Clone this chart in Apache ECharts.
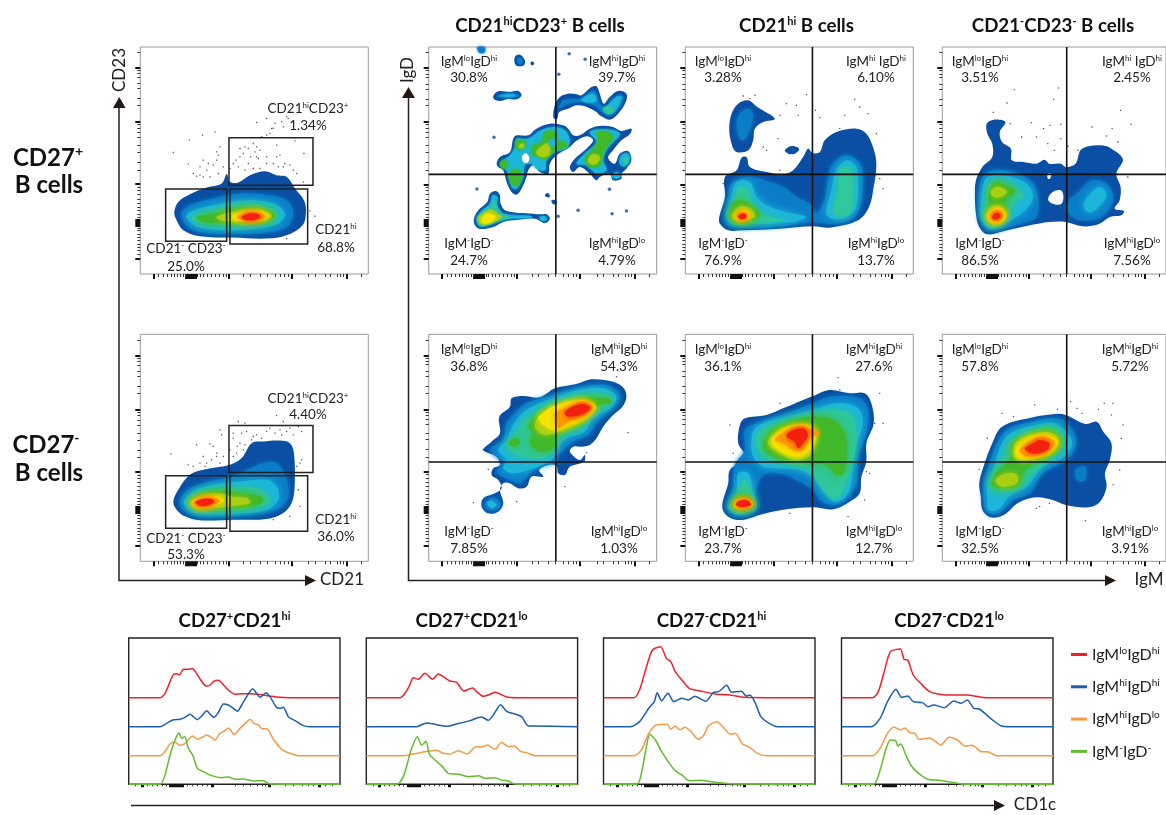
<!DOCTYPE html>
<html><head><meta charset="utf-8">
<style>html,body{margin:0;padding:0;background:#fff;overflow:hidden}#c{width:1166px;height:815px}</style>
<script src="https://cdn.jsdelivr.net/npm/echarts@6/dist/echarts.min.js"></script>
</head><body><div id="c"></div>
<script>
// ---------- density contours: [level, x,y, x,y, ...] in each panel's own axis units (level -1 = empty hole)
const cd27pGate = [
[0,523,635,535,605,570,582,620,562,665,550,680,522,690,545,715,547,750,525,795,513,830,525,860,530,885,565,912,600,918,635,908,675,860,705,800,715,700,712,600,708,550,690,530,660],
[1,545,640,570,615,640,595,720,580,800,585,860,600,880,640,860,680,800,697,700,700,600,695,560,675],
[2,560,645,600,625,680,608,750,600,820,610,855,640,835,670,770,685,680,690,600,682,570,665],
[3,575,648,620,635,700,615,760,612,815,625,835,645,815,665,760,675,680,678,610,672,580,660],
[4,590,650,650,640,710,625,770,620,815,635,825,648,800,665,750,668,680,668,610,665],
[5,650,650,700,635,770,627,810,640,815,650,790,662,730,665,670,662],
[6,695,648,730,635,775,632,805,645,790,658,740,664,705,660],
[7,712,650,740,637,780,638,798,648,775,660,735,662],
[8,725,650,750,640,775,642,782,650,760,660,735,658]];
const cd27nGate = [
[0,520,605,535,570,570,525,620,508,690,495,725,475,755,430,790,425,840,422,870,430,882,460,884,560,875,610,850,640,800,658,700,660,600,662,555,650,530,630],
[1,540,605,565,570,620,548,700,530,790,490,830,490,860,540,865,590,840,625,780,640,680,650,590,650,550,630],
[2,552,605,580,575,640,555,720,545,800,540,830,560,835,600,800,630,700,642,600,642,565,630],
[3,562,605,600,575,680,565,760,565,805,590,800,615,740,630,650,633,590,632],
[4,568,607,600,582,660,572,720,580,780,590,790,605,750,620,680,625,600,628],
[5,570,608,600,588,660,582,690,590,740,595,750,610,700,618,650,625,590,628],
[6,575,608,605,592,655,590,672,603,640,618,595,625],
[7,580,608,610,596,650,597,660,605,630,617,595,622],
[8,587,608,612,598,640,600,640,610,610,619]];
const cd27pDP = [
[1,232,141,255,141,253,157,238,157],
[0,345,170,360,163,375,180,372,195,355,198,345,190],[1,352,175,362,172,368,185,358,192],
[0,392,186,400,184,403,191,395,195],
[0,280,287,295,273,330,275,355,272,365,285,350,297,325,295,300,302,283,297],[1,290,287,310,280,350,280,358,287,340,292,310,292],[2,298,288,315,283,345,284,345,288,315,289],
[0,460,345,465,315,480,290,505,280,530,282,545,285,575,260,590,258,600,280,612,310,630,290,655,272,680,280,678,305,655,340,630,358,600,345,590,335,555,318,530,315,505,325,478,335,472,355,463,355],
[1,478,325,490,300,520,295,545,295,580,270,590,280,600,310,620,320,640,295,665,285,670,300,645,335,625,345,600,330,580,312,540,305,500,312],
[2,545,297,578,280,590,295,585,305,555,305],[2,620,320,650,290,665,290,650,325,630,342,612,330],[3,610,325,630,318,642,330,625,340],
[0,290,490,300,470,330,455,340,415,350,405,385,405,410,385,450,370,490,375,505,385,520,405,540,405,570,385,600,377,640,380,665,392,695,385,690,402,665,420,640,450,625,472,645,490,660,460,685,452,695,480,680,505,665,520,665,535,640,540,630,520,600,530,590,540,570,520,540,500,520,515,510,500,525,475,560,445,580,420,560,408,525,425,510,440,470,465,450,490,445,520,420,515,400,495,385,510,380,530,365,565,350,583,335,575,320,545,310,510,295,500],
[2,300,490,330,465,345,440,350,415,385,415,420,392,460,380,495,390,510,420,500,445,465,455,440,480,435,510,410,505,395,490,375,495,370,530,350,565,335,560,325,520,310,500],
[2,530,490,555,460,590,425,570,395,620,387,660,400,640,425,620,450,610,480,620,510,590,520,560,495],
[2,660,490,665,465,685,460,690,480,675,498],[2,635,528,650,515,665,525,650,535],
[4,395,460,400,435,425,425,435,395,465,395,475,420,495,425,500,440,465,450,440,475,415,470],
[4,345,435,355,420,378,425,370,445,350,445],[4,300,490,312,478,325,495,310,505],[4,325,525,345,505,365,520,355,555,340,555],
[4,555,475,580,445,595,420,590,395,625,395,640,410,625,435,610,460,600,495,570,500],[3,672,480,680,470,685,485,675,490],
[5,410,455,430,435,445,430,450,460,425,470],[5,360,432,372,430,370,442,358,442],[5,565,478,580,462,600,470,590,490,570,490],
[2,447,425,465,415,468,435,452,437],[-1,366,470,377,458,388,470,385,485,372,487],
[0,435,583,445,578,450,590,440,590],[0,455,600,468,600,470,612,458,610],
[0,222,655,235,630,262,605,270,580,288,572,300,585,302,610,320,632,400,640,420,642,440,642,450,655,435,668,405,655,340,660,310,665,280,680,240,686,225,675],
[2,230,655,245,632,270,610,278,585,292,590,292,615,310,640,395,647,395,652,330,655,300,662,265,675,240,678],
[3,232,655,250,635,275,620,283,600,290,625,305,642,330,650,305,657,270,670,242,675],
[5,235,655,250,638,275,628,292,640,305,650,280,665,245,672],[6,245,655,262,640,285,645,285,655,265,668,248,668],
[2,418,652,432,647,442,655,430,662]];
const cd27pHi = [
[0,178,385,185,340,205,310,235,300,262,320,315,355,280,365,255,385,250,420,235,450,200,455,185,430],
[1,200,380,210,340,235,325,250,345,235,400,215,420],[0,345,450,365,437,388,445,375,460,355,460],
[0,148,650,165,590,165,530,200,510,215,472,230,470,240,500,290,515,340,522,370,510,400,470,415,445,428,458,450,455,465,420,500,395,560,385,590,400,610,440,620,490,612,560,598,620,565,660,480,682,430,678,330,685,220,690,175,690,150,670],
[1,165,650,175,590,185,550,240,530,300,545,340,560,380,590,420,610,440,640,465,600,475,530,490,490,530,465,570,490,580,540,570,620,540,660,480,670,430,665,300,680,190,680,170,670],
[2,170,650,185,590,200,545,240,545,260,590,300,620,370,640,410,650,370,665,250,672,190,672],
[2,470,640,485,570,500,510,530,480,560,500,565,570,555,630,520,655,490,655],
[3,180,650,195,600,205,560,235,570,245,610,275,640,340,660,250,668,195,668],
[3,490,630,505,570,510,510,535,500,550,530,550,590,545,630,520,650,500,645],
[4,175,645,200,600,235,610,270,640,240,665,200,668],[5,185,647,210,620,240,625,255,648,225,662,200,662],
[6,195,647,215,630,235,632,240,650,220,662,203,660],[7,200,647,215,635,232,640,232,655,215,660],[8,205,647,215,640,228,643,228,653,213,657]];
const cd27pLo = [
[0,152,590,155,540,175,500,205,470,205,430,190,400,188,370,210,358,245,365,228,395,235,425,262,445,265,480,300,485,340,490,365,478,380,490,415,490,430,500,460,490,475,450,500,438,540,435,570,445,605,477,585,520,598,560,595,600,580,625,608,632,600,645,565,650,530,672,480,678,430,665,380,665,320,675,250,690,190,702,165,680,155,640],
[-1,376,595,390,575,415,570,423,590,415,612,385,608],[-1,375,520,385,520,382,535,375,535],
[1,165,640,165,570,185,520,240,510,320,540,345,590,340,650,290,670,200,690,175,670],[1,440,600,470,575,510,540,560,555,575,600,540,650,480,660,440,640],
[2,170,640,175,570,190,530,240,525,310,550,330,590,310,625,270,655,200,685,178,665],[2,485,610,510,575,535,560,555,580,540,610,510,635,490,630],
[3,180,620,190,570,200,540,240,540,285,565,300,585,270,610,250,650,210,680,183,660],
[4,185,640,195,620,195,570,215,545,245,555,275,572,245,600,250,640,225,670,195,665],
[5,200,575,215,560,240,565,250,575,230,590,210,590],[5,185,648,195,625,220,615,245,630,250,650,225,672,197,668],
[6,192,648,205,628,228,622,245,640,240,660,220,668,200,665],[7,197,648,210,632,228,630,238,645,228,660,208,662],[8,205,648,215,638,228,640,230,650,218,657,207,655]];
const cd27nDP = [
[0,250,420,275,395,300,370,298,320,330,290,335,265,370,258,420,262,465,235,530,222,575,208,640,215,670,232,680,260,668,290,640,315,610,350,590,385,570,405,545,410,520,410,510,425,540,450,555,435,553,455,510,470,495,495,475,490,470,468,445,465,418,480,430,500,395,500,380,530,355,535,330,520,310,520,300,540,310,580,295,605,265,610,245,590,250,565,285,550,305,535,295,510,275,495,280,475,300,465,290,440],
[1,270,420,310,390,320,340,345,310,380,280,460,255,530,235,610,225,655,245,660,270,620,310,590,340,565,375,520,395,475,435,460,460,420,465,390,490,360,520,320,505,290,485,310,460],
[1,255,580,275,565,295,570,300,590,280,600,260,595],[2,262,580,275,572,290,585,275,595],
[2,295,420,320,390,340,345,380,300,460,265,540,240,610,235,650,260,630,295,580,325,555,365,500,385,470,420,455,450,400,475,340,490,310,475,320,450],
[3,320,400,345,375,375,330,450,285,540,255,600,250,640,265,615,290,570,315,545,350,490,375,465,410,440,440,390,445,340,430],
[4,325,400,345,385,360,395,345,410],[4,385,350,430,300,470,285,550,262,590,265,625,265,635,275,600,285,570,305,545,340,480,370,460,415,420,425,390,400,400,370],
[5,405,345,425,310,465,285,550,268,590,290,570,320,530,345,475,365,440,375,420,370],
[6,415,325,430,310,460,290,545,270,585,290,560,320,510,345,475,360,445,355],
[7,465,310,500,295,545,275,578,290,555,315,505,335,475,355,470,335],[8,495,305,545,282,572,293,550,312,505,320]];
const cd27nHi = [
[0,157,590,175,520,180,480,225,440,205,400,210,345,225,325,290,315,340,295,400,270,430,258,480,240,540,250,585,250,605,280,612,340,590,400,590,455,575,500,570,550,540,575,490,598,430,592,350,598,280,612,215,630,175,620],
[1,170,590,190,530,195,465,225,420,225,360,290,330,350,310,430,280,480,260,570,265,595,300,590,370,565,440,560,520,530,565,490,585,450,570,430,540,380,510,330,490,280,495,255,555,260,600,215,618,180,605],
[2,175,590,200,555,205,490,235,490,250,550,260,590,215,612,185,605],
[2,250,440,245,390,260,350,350,320,430,300,500,280,565,295,580,340,560,400,550,470,535,550,495,575,450,530,430,500,390,480,330,475,280,470],
[3,180,590,195,560,225,510,245,560,250,590,215,605,190,600],
[3,265,420,265,370,330,335,430,310,480,300,545,315,560,400,540,480,515,550,490,565,445,515,420,480,340,460,290,445],
[4,185,585,200,560,230,555,255,585,230,600,200,600],[4,280,410,300,365,360,335,430,320,490,330,525,370,530,440,520,490,500,495,470,465,420,460,350,450,310,440],
[5,190,583,205,565,235,565,250,585,225,597,200,597],[5,295,400,320,365,370,345,420,345,440,380,420,435,380,450,330,430],
[6,192,583,205,568,235,568,248,585,225,595,200,595],[6,305,395,335,360,380,345,425,352,440,375,415,425,380,440,335,425],
[7,195,583,210,570,235,570,245,585,225,592,205,592],[7,315,390,345,365,385,348,420,355,450,372,420,385,400,420,370,420,340,400],
[8,198,583,210,572,235,572,243,585,225,590,207,590],[8,360,365,400,355,415,375,400,400,385,415,375,395,350,380]];
const cd27nLo = [
[0,165,520,180,465,205,400,235,350,330,322,400,312,430,315,490,342,525,335,545,365,570,400,565,450,550,490,555,530,535,575,500,592,430,585,390,570,340,562,285,578,240,615,200,622,175,600,170,560],
[1,180,520,195,465,215,410,250,360,330,335,400,325,430,335,460,380,455,420,430,450,360,490,320,550,270,570,230,605,195,610,180,585],
[1,460,480,490,470,490,510,465,510],
[2,190,520,210,470,230,410,260,370,340,345,395,340,430,365,450,400,425,440,360,470,310,530,260,555,225,598,195,600,190,570],
[3,195,515,215,475,240,440,260,395,340,355,395,350,425,385,415,420,360,460,310,510,280,540,215,545,195,535],
[4,205,510,225,480,260,450,265,400,340,365,395,365,415,395,395,430,340,455,305,480,285,525,225,535,205,525],
[5,215,510,250,490,280,495,280,520,235,530],[5,270,430,280,395,340,370,395,372,410,400,380,435,320,450,280,450],
[6,275,425,295,395,345,375,390,380,405,400,375,430,320,445,290,445],
[7,290,420,320,395,350,380,390,390,395,405,365,430,320,440,300,435],[8,305,415,330,400,350,390,380,400,375,418,345,430,320,428]];

// ---------- sparse events outside the contours
const cd27pGateDots=[[520,457],[568,420],[608,405],[645,395],[770,367],[800,355],[820,385],[860,350],[850,380],[800,405],[735,440],[760,430],[780,450],[830,435],[885,422],[912,460],[650,480],[660,440],[600,500],[565,492],[620,510],[580,520],[630,530],[700,490],[720,470],[745,490],[770,470],[800,490],[855,490],[830,470],[880,510],[910,545],[690,505],[930,632],[945,648],[860,715],
[720,445],[730,460],[745,445],[752,470],[765,455],[775,475],[708,480],[715,500],[735,510],[760,505],[780,505],[840,465],[850,500],[870,495],[890,520],[610,480],[625,490],[650,455],[655,465],[640,495],[600,525],[610,530],[590,528],[655,520],[670,500],[680,525],[800,470],[820,490],[835,500],[815,385],[825,370],[865,355],[845,365],[810,400],[770,440],[785,410]];
const cd27nGateDots=[[513,462],[590,435],[630,432],[660,390],[665,405],[565,495],[610,470],[650,460],[620,490],[715,365],[735,370],[830,347],[850,365],[905,395],[880,405],[840,390],[700,400],[720,430],[760,410],[800,395],[700,470],[730,450],[900,490],[895,570],[900,620],[820,660],[870,650],
[700,415],[712,440],[725,400],[740,395],[755,420],[770,405],[785,415],[810,385],[825,400],[845,405],[860,395],[870,385],[895,380],[905,480],[890,500],[880,480],[640,440],[650,470],[635,480],[600,490],[580,500],[670,470],[690,450],[710,460],[735,435],[745,460],[660,490],[615,500]];
const cd27pDPDots=[[508,160],[556,177],[477,222],[282,411],[231,566],[629,567],[535,630],[637,640],[680,632],[475,648]];
const cd27pHiDots=[[220,287],[255,285],[240,295],[410,283],[380,315],[350,310],[330,345],[385,345],[325,415],[437,330],[450,352],[555,297],[570,320],[525,345],[510,385],[595,340],[620,400],[630,535],[640,565],[190,440],[160,550],[290,450],[330,510],[280,440]];
const cd27pLoDots=[[272,268],[408,263],[393,297],[250,308],[208,336],[325,367],[260,370],[382,375],[415,372],[362,385],[295,410],[340,410],[375,430],[415,415],[437,437],[395,450],[468,450],[510,380],[572,385],[630,372],[598,330],[555,407],[590,425],[620,530]];
const cd27nDPDots=[[250,420],[265,478],[220,578],[350,575],[495,530],[685,368],[650,200],[560,428]];
const cd27nHiDots=[[180,345],[190,430],[330,280],[360,295],[505,203],[510,240],[630,250],[615,340],[640,340],[590,485],[600,490],[585,570],[535,620],[360,610]];
const cd27nLoDots=[[235,310],[270,320],[335,285],[405,298],[445,275],[465,295],[480,310],[530,298],[548,280],[575,280],[570,315],[605,345],[600,385],[190,385],[165,478],[595,480],[575,525],[340,595],[350,590],[380,580],[420,570],[490,632]];

// ---------- gates [x1,y1,x2,y2]
const cd27pGates=[[687,413,939,555],[690,566,923,731],[497,566,680,723]];
const cd27nGates=[[687,377,939,518],[690,528,923,695],[497,528,680,686]];

// ---------- histograms [x, y] (baselines 293 / 380 / 467 / 553)
const h1Red=[[56,293],[150,293],[165,280],[178,250],[190,224],[200,221],[208,225],[220,208],[232,208],[248,206],[258,218],[272,240],[288,258],[298,257],[310,245],[325,241],[338,252],[355,270],[375,283],[395,281],[420,281],[445,283],[470,287],[500,291],[540,293],[690,293]];
const h1Blue=[[56,380],[150,380],[170,370],[188,360],[210,358],[225,352],[240,343],[250,350],[262,359],[275,348],[290,332],[300,342],[312,352],[325,338],[340,312],[355,315],[370,325],[382,334],[395,315],[410,290],[428,266],[438,278],[450,292],[468,278],[480,290],[498,320],[510,325],[520,322],[535,350],[555,362],[580,377],[600,380],[690,380]];
const h1Orange=[[56,467],[150,467],[165,455],[180,432],[195,427],[210,436],[225,430],[248,408],[262,418],[275,413],[290,405],[305,413],[315,420],[330,400],[345,392],[356,384],[372,404],[390,385],[408,368],[420,358],[432,370],[445,375],[456,386],[470,386],[490,418],[515,448],[540,460],[565,467],[690,467]];
const h1Green=[[56,553],[150,553],[165,525],[180,465],[195,420],[207,398],[215,415],[224,410],[235,445],[248,465],[262,505],[280,515],[305,527],[335,533],[355,531],[375,538],[400,537],[430,543],[460,542],[480,552],[690,553]];
const h2Red=[[769,293],[870,293],[885,280],[898,258],[910,233],[925,238],[945,220],[960,232],[968,238],[985,222],[1000,230],[1020,243],[1040,247],[1062,273],[1088,264],[1100,275],[1120,289],[1135,285],[1155,277],[1170,282],[1190,291],[1220,293],[1403,293]];
const h2Blue=[[769,380],[920,380],[950,369],[980,374],[1010,379],[1040,372],[1080,362],[1115,351],[1135,361],[1150,345],[1172,314],[1190,334],[1215,342],[1235,350],[1255,378],[1275,378],[1403,380]];
const h2Orange=[[769,467],[880,467],[930,458],[980,451],[1000,460],[1020,462],[1045,452],[1072,462],[1098,440],[1115,441],[1132,435],[1155,448],[1175,427],[1195,440],[1212,438],[1232,454],[1250,458],[1275,467],[1403,467]];
const h2Green=[[769,553],[860,553],[880,530],[895,480],[905,445],[922,410],[935,435],[948,424],[958,462],[975,480],[995,497],[1015,520],[1045,523],[1075,530],[1105,527],[1125,535],[1155,533],[1175,541],[1195,543],[1215,552],[1403,553]];
const h3Red=[[37,293],[120,293],[135,270],[150,215],[170,150],[192,140],[208,175],[220,185],[232,215],[250,240],[270,265],[300,273],[340,282],[380,285],[420,292],[480,293],[612,293]];
const h3Blue=[[37,380],[110,380],[135,365],[160,325],[175,305],[183,278],[195,302],[212,280],[228,305],[250,295],[268,300],[285,289],[315,304],[335,278],[350,275],[372,256],[385,277],[412,274],[425,288],[435,285],[450,310],[465,350],[490,372],[510,380],[612,380]];
const h3Orange=[[37,467],[120,467],[140,450],[160,400],[180,375],[210,373],[220,388],[232,378],[245,390],[258,382],[275,395],[295,418],[310,405],[322,378],[345,365],[365,385],[382,403],[395,400],[415,432],[435,442],[455,460],[480,467],[612,467]];
const h3Green=[[37,553],[128,553],[140,520],[152,450],[163,403],[178,420],[195,455],[210,480],[230,510],[250,525],[270,542],[300,541],[340,547],[390,552],[612,553]];
const h4Red=[[685,293],[770,293],[785,275],[800,220],[818,155],[845,147],[855,178],[865,180],[880,225],[900,250],[925,275],[970,285],[1025,285],[1075,293],[1260,293]];
const h4Blue=[[685,380],[765,380],[790,355],[810,305],[833,268],[848,292],[865,288],[880,305],[905,308],[920,320],[935,315],[965,323],[990,303],[1010,310],[1027,300],[1045,325],[1060,327],[1090,355],[1120,378],[1145,380],[1260,380]];
const h4Orange=[[685,467],[770,467],[790,445],[810,400],[828,381],[845,390],[858,384],[870,398],[885,400],[895,418],[925,414],[955,435],[978,412],[1000,420],[1020,438],[1040,436],[1065,455],[1085,456],[1105,467],[1260,467]];
const h4Green=[[685,553],[772,553],[790,510],[805,450],[818,420],[832,422],[838,438],[846,432],[860,465],[875,498],[895,520],[920,538],[950,541],[985,547],[1020,553],[1260,553]];

// ---------- tick positions (offset from axis start)
const xTickMajor=[40,136,142,148,154,160,166,266,454,619];
const xTickMinor=[55,68,80,92,102,112,120,128,134,172,180,190,200,212,224,236,248,258,310,330,360,380,405,420,433,443,505,525,555,570,590,600,610,664];
const yTickMajor=[46,145,151,157,163,269,456,618];
const yTickMinor=[60,70,80,90,100,110,120,130,138,170,180,190,200,212,224,238,250,260,312,335,365,385,410,425,438,448,505,525,555,570,590,600,610,664];
const histTickMajor=[40,125,132,139,146,153,160,250,422,572];
const histTickMinor=[20,55,70,85,100,112,175,190,205,220,235,320,345,365,385,400,410,470,495,520,540,555,590,610];

// ---------- legend and text
const seriesNames=['IgMloIgDhi','IgMhiIgDhi','IgMhiIgDlo','IgM-IgD-'];
const seriesLabels=['IgM^lo^IgD^hi^','IgM^hi^IgD^hi^','IgM^hi^IgD^lo^','IgM^-^IgD^-^'];
const seriesColors=['#f0202c','#1c5fae','#f79a46','#62bd2d'];
const levelColors=['#0a4fa3','#0b7cc8','#1cb6da','#2fc79b','#3fb82a','#a9cf13','#f5e500','#ff9a00','#f3200f'];

const densityPanels=[
 {c:cd27pGate,d:cd27pGateDots,g:cd27pGates,l:140.3,t:47,xr:[421,1105],yr:[141,821]},
 {c:cd27nGate,d:cd27nGateDots,g:cd27nGates,l:140.3,t:334.3,xr:[421,1105],yr:[103,785]},
 {c:cd27pDP,d:cd27pDPDots,q:[468,522],big:1,l:428.7,t:47,xr:[86,771],yr:[140,821]},
 {c:cd27pHi,d:cd27pHiDots,q:[428,522],l:685.3,t:47,xr:[46,731],yr:[140,821]},
 {c:cd27pLo,d:cd27pLoDots,q:[433,522],l:942.3,t:47,xr:[52,737],yr:[140,821]},
 {c:cd27nDP,d:cd27nDPDots,q:[468,456],l:428.7,t:334.3,xr:[86,771],yr:[73,754]},
 {c:cd27nHi,d:cd27nHiDots,q:[428,456],l:685.3,t:334.3,xr:[46,731],yr:[73,754]},
 {c:cd27nLo,d:cd27nLoDots,q:[433,456],l:942.3,t:334.3,xr:[52,737],yr:[73,754]}];
const histPanels=[
 {s:[h1Red,h1Blue,h1Orange,h1Green],l:128.7,w:211.3,xr:[56,690]},
 {s:[h2Red,h2Blue,h2Orange,h2Green],l:366.3,w:211.3,xr:[769,1403]},
 {s:[h3Red,h3Blue,h3Orange,h3Green],l:603.5,w:211.5,xr:[37,612]},
 {s:[h4Red,h4Blue,h4Orange,h4Green],l:841.5,w:211.5,xr:[685,1260]}];

const titles=[['CD21^hi^CD23^+^ B cells',540,26],['CD21^hi^ B cells',796.5,26],['CD21^-^CD23^-^ B cells',1053,26],
 ['CD27^+^CD21^hi^',234.5,621],['CD27^+^CD21^lo^',471.5,621],['CD27^-^CD21^hi^',711.5,621],['CD27^-^CD21^lo^',949,621]];
const rowLabels=[['CD27^+^',48,158],['B cells',49,185],['CD27^-^',46,445],['B cells',49,473]];
const axisLabels=[['CD21',342,580],['IgM',1149,580],['CD1c',1035,805]];
const rotLabels=[['CD23',120,70],['IgD',408,70]];
const notes=[
 ['CD21^hi^CD23^+^',308,109],['1.34%',308,126],['CD21^hi^',336,230],['68.8%',336,248],['CD21^-^ CD23^-^',186,249],['25.0%',186,267],
 ['CD21^hi^CD23^+^',308,399],['4.40%',308,415],['CD21^hi^',336,520],['36.0%',336,537],['CD21^-^ CD23^-^',186,539],['53.3%',186,555],
 ['IgM^lo^IgD^hi^',469,62],['30.8%',469,78],['IgM^hi^IgD^hi^',617,62],['39.7%',617,78],['IgM^-^IgD^-^',469,244],['24.7%',469,261],['IgM^hi^IgD^lo^',617,244],['4.79%',617,261],
 ['IgM^lo^IgD^hi^',723,62],['3.28%',723,78],['IgM^hi^ IgD^hi^',876,62],['6.10%',876,78],['IgM^-^IgD^-^',723,244],['76.9%',723,261],['IgM^hi^IgD^lo^',876,244],['13.7%',876,261],
 ['IgM^lo^IgD^hi^',980,62],['3.51%',980,78],['IgM^hi^ IgD^hi^',1132,62],['2.45%',1132,78],['IgM^-^IgD^-^',980,244],['86.5%',980,261],['IgM^hi^IgD^lo^',1132,244],['7.56%',1132,261],
 ['IgM^lo^IgD^hi^',469,350],['36.8%',469,367],['IgM^hi^IgD^hi^',619,350],['54.3%',619,367],['IgM^-^IgD^-^',469,532],['7.85%',469,549],['IgM^hi^IgD^lo^',619,532],['1.03%',619,549],
 ['IgM^lo^IgD^hi^',723,350],['36.1%',723,367],['IgM^hi^IgD^hi^',874,350],['27.6%',874,367],['IgM^-^IgD^-^',723,532],['23.7%',723,549],['IgM^hi^IgD^lo^',874,532],['12.7%',874,549],
 ['IgM^lo^IgD^hi^',980,350],['57.8%',980,367],['IgM^hi^IgD^hi^',1130,350],['5.72%',1130,367],['IgM^-^IgD^-^',980,532],['32.5%',980,549],['IgM^hi^IgD^lo^',1130,532],['3.91%',1130,549]];

// ---------- build
const FONT='Lato';
function richOf(size,weight,color){
  return {n:{fontFamily:FONT,fontSize:size,fontWeight:weight,fill:color,color:color,lineHeight:size+4},
          s:{fontFamily:FONT,fontSize:Math.round(size*0.6),fontWeight:weight,fill:color,color:color,lineHeight:size+4,padding:[0,0,Math.round(size*0.55),0]}};
}
function markup(t){
  return t.split('^').map((p,i)=>p===''?'':(i%2?'{s|'+p+'}':'{n|'+p+'}')).join('');
}
function label(t,x,y,size,weight,color,rot){
  return {type:'text',x:x,y:y,rotation:rot||0,z:50,silent:true,style:{text:markup(t),align:'center',verticalAlign:'middle',rich:richOf(size,weight,color||'#222')}};
}
const grids=[],xAxes=[],yAxes=[],series=[];
function addAxes(i,xr,yr,invY,maj,min,ymaj,ymin,xlen,ylen){
  const ax=(v)=>v+xr[0], ay=(v)=>yr[1]-v;
  const base={min:xr[0],max:xr[1],type:'value',gridIndex:i,splitLine:{show:false},axisLine:{show:false},axisLabel:{show:false}};
  const yb={min:yr[0],max:yr[1],type:'value',gridIndex:i,inverse:true,position:'left',splitLine:{show:false},axisLine:{show:false},axisLabel:{show:false}};
  const xi=xAxes.length, yi=yAxes.length;
  xAxes.push(Object.assign({},base,{position:'bottom',axisTick:{show:true,length:xlen[0],customValues:maj.map(ax),lineStyle:{color:'#111',width:xlen[2]}}}));
  xAxes.push(Object.assign({},base,{position:'bottom',axisTick:{show:true,length:xlen[1],customValues:min.map(ax),lineStyle:{color:'#333',width:1}}}));
  if(ymaj){
    yAxes.push(Object.assign({},yb,{axisTick:{show:true,length:ylen[0],customValues:ymaj.map(ay),lineStyle:{color:'#111',width:2}}}));
    yAxes.push(Object.assign({},yb,{axisTick:{show:true,length:ylen[1],customValues:ymin.map(ay),lineStyle:{color:'#333',width:1}}}));
  } else {
    yAxes.push(Object.assign({},yb,{axisTick:{show:false}}));
  }
  return [xi,yi];
}
densityPanels.forEach((p,i)=>{
  const gi=grids.length;
  grids.push({show:true,left:p.l,top:p.t,width:228,height:227,borderColor:'#9a9a9a',borderWidth:1,backgroundColor:'transparent'});
  const [xi,yi]=addAxes(gi,p.xr,p.yr,true,xTickMajor,xTickMinor,yTickMajor,yTickMinor,[5,3,2],[5,3]);
  const polys=p.c;
  series.push({type:'custom',xAxisIndex:xi,yAxisIndex:yi,silent:true,z:2,animation:false,
    data:polys.map((c,k)=>[c[1],c[2],k]),encode:{x:0,y:1},
    renderItem:(params,api)=>{
      const c=polys[api.value(2)],pts=[];
      for(let j=1;j<c.length;j+=2)pts.push(api.coord([c[j],c[j+1]]));
      const col=c[0]<0?'#fff':levelColors[c[0]];
      const style={fill:col};
      if(c[0]>0){style.shadowBlur=p.big?3:(c[0]>4?6:(c[0]===1?5:9));style.shadowColor=col;}
      return {type:'polygon',shape:{points:pts,smooth:0.35},style:style};
    }});
  series.push({type:'scatter',xAxisIndex:xi,yAxisIndex:yi,silent:true,z:3,animation:false,data:p.d,symbol:p.big?'circle':'rect',
    symbolSize:p.big?3.5:1.3,itemStyle:{color:p.big?'#0a4fa3':'#333'}});
  if(p.g){
    const gates=p.g;
    series.push({type:'custom',xAxisIndex:xi,yAxisIndex:yi,silent:true,z:4,animation:false,
      data:gates,encode:{x:[0,2],y:[1,3]},
      renderItem:(params,api)=>{
        const a=api.coord([api.value(0),api.value(1)]),b=api.coord([api.value(2),api.value(3)]);
        return {type:'rect',shape:{x:a[0],y:a[1],width:b[0]-a[0],height:b[1]-a[1]},style:{fill:'none',stroke:'#222',lineWidth:1.5}};
      }});
  }
  if(p.q){
    [[[p.q[0],p.yr[0]],[p.q[0],p.yr[1]]],[[p.xr[0],p.q[1]],[p.xr[1],p.q[1]]]].forEach(seg=>{
      series.push({type:'line',xAxisIndex:xi,yAxisIndex:yi,silent:true,z:4,animation:false,symbol:'none',data:seg,lineStyle:{color:'#111',width:1.6}});
    });
  }
});
histPanels.forEach((p)=>{
  const gi=grids.length;
  grids.push({show:true,left:p.l,top:638,width:p.w,height:146.3,borderColor:'#222',borderWidth:1.4,backgroundColor:'transparent'});
  const k=(p.xr[1]-p.xr[0])/634;
  const [xi,yi]=addAxes(gi,p.xr,[114,553],true,histTickMajor.map(v=>v*k),histTickMinor.map(v=>v*k),null,null,[3,2,3],null);
  p.s.forEach((d,j)=>{
    series.push({name:seriesNames[j],type:'line',xAxisIndex:xi,yAxisIndex:yi,data:d,symbol:'none',smooth:0.25,silent:true,animation:false,z:5,clip:false,
      lineStyle:{color:seriesColors[j],width:1.5},itemStyle:{color:seriesColors[j]}});
  });
});

const graphics=[];
titles.forEach(t=>graphics.push(label(t[0],t[1],t[2],18.7,'bold','#111')));
rowLabels.forEach(t=>graphics.push(label(t[0],t[1],t[2],24,'bold','#111')));
axisLabels.forEach(t=>graphics.push(label(t[0],t[1],t[2],17,'normal','#222')));
rotLabels.forEach(t=>graphics.push(label(t[0],t[1],t[2],17,'normal','#222',Math.PI/2)));
notes.forEach(t=>graphics.push(label(t[0],t[1],t[2],13.5,'normal','#222')));
function arrowLine(pts){return {type:'polyline',silent:true,z:40,shape:{points:pts},style:{fill:'none',stroke:'#222',lineWidth:1.5}};}
function head(p){return {type:'polygon',silent:true,z:41,shape:{points:p},style:{fill:'#231815'}};}
graphics.push(arrowLine([[119,105],[119,580.5],[310,580.5]]),head([[113,108],[125.5,108],[119.3,97]]),head([[305,575],[305,586],[316,580.5]]));
graphics.push(arrowLine([[408.5,95],[408.5,580.5],[1110,580.5]]),head([[402,98],[415,98],[408.5,87]]),head([[1105,575],[1105,586],[1116,580.5]]));
graphics.push(arrowLine([[131,805.5],[998,805.5]]),head([[994,800],[994,811],[1005,805.5]]));

const option={
  animation:false,backgroundColor:'#fff',grid:grids,xAxis:xAxes,yAxis:yAxes,series:series,graphic:graphics,
  legend:{show:true,orient:'vertical',left:1071,top:645.5,padding:0,itemWidth:16,itemHeight:3,itemGap:14.3,icon:'rect',
    data:seriesNames,selectedMode:false,
    formatter:n=>markup(seriesLabels[seriesNames.indexOf(n)]),
    textStyle:{rich:{n:{fontFamily:FONT,fontSize:16,color:'#222',lineHeight:20},s:{fontFamily:FONT,fontSize:10,color:'#222',lineHeight:20,padding:[0,0,8,0]}}}}
};
const chart=echarts.init(document.getElementById('c'),null,{renderer:'canvas',width:1166,height:815});
chart.setOption(option);
</script></body></html>
